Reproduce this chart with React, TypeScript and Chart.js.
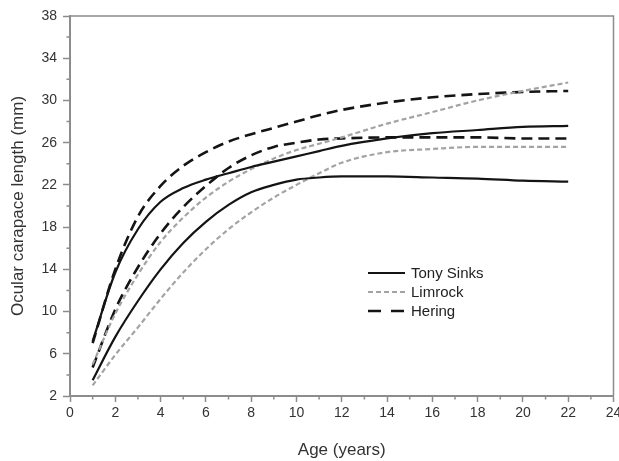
import React, { useEffect, useRef } from 'react';
import { Chart, registerables } from 'chart.js';

Chart.register(...registerables);

// ---- data ----
const ages = [1, 2, 3, 4, 5, 6, 7, 8, 9, 10, 11, 12, 14, 16, 18, 20, 22];

const tonyUpper = [7.2, 13.7, 17.8, 20.4, 21.7, 22.5, 23.1, 23.7, 24.2, 24.7, 25.2, 25.7, 26.4, 26.9, 27.2, 27.5, 27.6];
const tonyLower = [3.5, 7.6, 11.0, 14.0, 16.5, 18.5, 20.1, 21.3, 22.0, 22.5, 22.7, 22.8, 22.8, 22.7, 22.6, 22.4, 22.3];
const limrockUpper = [5.0, 9.8, 13.5, 16.6, 18.9, 20.8, 22.3, 23.5, 24.5, 25.3, 25.9, 26.5, 27.8, 28.9, 30.0, 30.9, 31.7];
const limrockLower = [3.0, 5.9, 8.5, 11.2, 13.7, 15.9, 17.8, 19.4, 20.8, 22.0, 23.1, 24.1, 25.1, 25.4, 25.6, 25.6, 25.6];
const heringUpper = [7.0, 14.0, 19.0, 21.9, 23.8, 25.1, 26.1, 26.8, 27.4, 28.0, 28.6, 29.1, 29.8, 30.3, 30.6, 30.8, 30.9];
const heringLower = [4.7, 10.2, 14.2, 17.4, 19.9, 21.9, 23.6, 24.8, 25.6, 26.0, 26.3, 26.4, 26.5, 26.5, 26.5, 26.4, 26.4];

const xTicks = [0, 2, 4, 6, 8, 10, 12, 14, 16, 18, 20, 22, 24];
const xMinorTicks = [1, 3, 5, 7, 9, 11, 13, 15, 17, 19, 21, 23];
const yTicks = [2, 6, 10, 14, 18, 22, 26, 30, 34, 38];
const yMinorTicks = [4, 8, 12, 16, 20, 24, 28, 32, 36];

const legendLabels = ['Tony Sinks', 'Limrock', 'Hering'];

const xTitle = 'Age (years)';
const yTitle = 'Ocular carapace length (mm)';

// ---- styles ----
const FONT = "'Liberation Sans', Arial, Helvetica, sans-serif";
const INK = '#141414';
const GRAY = '#a3a3a3';
const AXIS = '#8c8c8c';
const TEXT = '#333333';

const seriesStyles = [
  { color: INK, width: 2.2, dash: [] as number[] },
  { color: GRAY, width: 2.2, dash: [5, 3] },
  { color: INK, width: 2.6, dash: [11, 6] },
];

export default function App() {
  const ref = useRef<HTMLCanvasElement>(null);

  useEffect(() => {
    if (!ref.current) return;
    const pts = (ys: number[]) => ages.map((a, i) => ({ x: a, y: ys[i] }));
    const mk = (label: string, ys: number[], s: { color: string; width: number; dash: number[] }) => ({
      label,
      data: pts(ys),
      borderColor: s.color,
      backgroundColor: s.color,
      borderWidth: s.width,
      borderDash: s.dash,
      borderCapStyle: 'butt' as const,
      pointRadius: 0,
      fill: false,
      cubicInterpolationMode: 'monotone' as const,
    });

    const datasets = [
      mk(legendLabels[0], tonyUpper, seriesStyles[0]),
      mk(legendLabels[0], tonyLower, seriesStyles[0]),
      mk(legendLabels[1], limrockUpper, seriesStyles[1]),
      mk(legendLabels[1], limrockLower, seriesStyles[1]),
      mk(legendLabels[2], heringUpper, seriesStyles[2]),
      mk(legendLabels[2], heringLower, seriesStyles[2]),
    ];

    const decor = {
      id: 'decor',
      afterDraw(chart: any) {
        const { ctx, chartArea: ca, scales } = chart;
        const xs = scales.x;
        const ys = scales.y;
        ctx.save();
        // frame top/right
        ctx.strokeStyle = AXIS;
        ctx.lineWidth = 1.5;
        ctx.beginPath();
        ctx.moveTo(ca.left, ca.top);
        ctx.lineTo(ca.right, ca.top);
        ctx.lineTo(ca.right, ca.bottom);
        ctx.stroke();
        // minor ticks
        ctx.lineWidth = 1.5;
        ctx.beginPath();
        xMinorTicks.forEach((v) => {
          const p = xs.getPixelForValue(v);
          ctx.moveTo(p, ca.bottom);
          ctx.lineTo(p, ca.bottom + 3.5);
        });
        yMinorTicks.forEach((v) => {
          const p = ys.getPixelForValue(v);
          ctx.moveTo(ca.left, p);
          ctx.lineTo(ca.left - 3.5, p);
        });
        ctx.stroke();
        // legend
        const lx = ca.left + 298;
        const ly = ca.top + 257;
        ctx.font = `15px ${FONT}`;
        ctx.textBaseline = 'middle';
        ctx.textAlign = 'left';
        legendLabels.forEach((lab, i) => {
          const s = seriesStyles[i];
          const y = ly + i * 19;
          ctx.strokeStyle = s.color;
          ctx.lineWidth = s.width;
          ctx.setLineDash(i === 2 ? [13, 10] : s.dash);
          ctx.beginPath();
          ctx.moveTo(lx, y);
          ctx.lineTo(lx + 37, y);
          ctx.stroke();
          ctx.setLineDash([]);
          ctx.fillStyle = '#222';
          ctx.fillText(lab, lx + 43, y + 0.5);
        });
        ctx.restore();
      },
    };

    const chart = new Chart(ref.current, {
      type: 'line',
      data: { datasets },
      options: {
        animation: false,
        responsive: false,
        devicePixelRatio: 1,
        layout: { padding: { left: 0, right: 5.5, top: 16, bottom: 0 } },
        plugins: { legend: { display: false }, tooltip: { enabled: false } },
        scales: {
          x: {
            type: 'linear',
            min: 0,
            max: 24,
            afterBuildTicks: (s: any) => {
              s.ticks = xTicks.map((v) => ({ value: v }));
            },
            afterFit: (s: any) => {
              s.height = 65;
              s.paddingLeft = 0;
              s.paddingRight = 0;
            },
            grid: { drawOnChartArea: false, drawTicks: true, tickLength: 6, tickColor: AXIS, tickWidth: 1.5 },
            border: { display: true, color: AXIS, width: 2 },
            ticks: { color: TEXT, font: { family: FONT, size: 14 }, padding: 3, autoSkip: false, maxRotation: 0 },
            title: { display: true, text: xTitle, color: TEXT, font: { family: FONT, size: 17 }, padding: { top: 0, bottom: 0 } },
          },
          y: {
            type: 'linear',
            min: 2,
            max: 38,
            afterBuildTicks: (s: any) => {
              s.ticks = yTicks.map((v) => ({ value: v }));
            },
            afterFit: (s: any) => {
              s.width = 70;
              s.paddingTop = 0;
              s.paddingBottom = 0;
            },
            grid: { drawOnChartArea: false, drawTicks: true, tickLength: 7, tickColor: AXIS, tickWidth: 1.5 },
            border: { display: true, color: AXIS, width: 2 },
            ticks: { color: TEXT, font: { family: FONT, size: 14 }, padding: 6, autoSkip: false },
            title: { display: true, text: yTitle, color: TEXT, font: { family: FONT, size: 17 }, padding: { top: 8, bottom: 0 } },
          },
        },
      },
      plugins: [decor],
    });
    return () => chart.destroy();
  }, []);

  return (
    <div style={{ position: 'absolute', left: 0, top: 0, width: 619, height: 461 }}>
      <canvas ref={ref} width={619} height={461} style={{ width: 619, height: 461, display: 'block' }} />
    </div>
  );
}
